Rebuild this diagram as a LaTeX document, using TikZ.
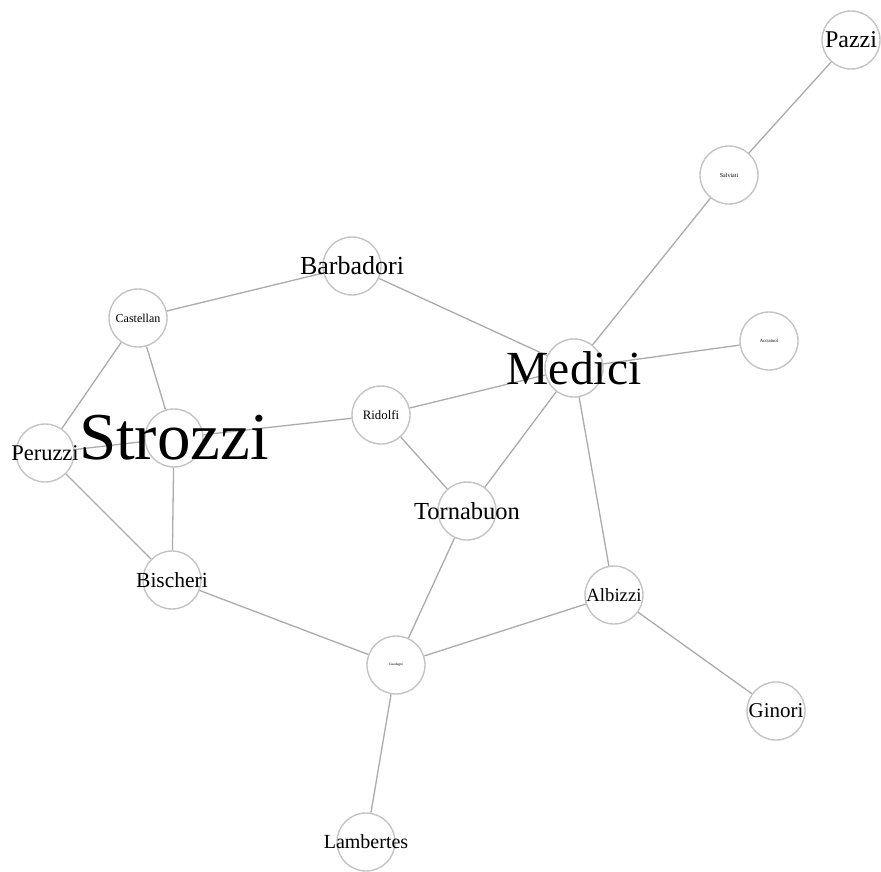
\documentclass[tikz,border=0pt]{standalone}
\usepackage{fontspec}
\setmainfont{Liberation Serif}
\definecolor{edgegray}{HTML}{ABABAB}
\definecolor{ringgray}{HTML}{C4C4C4}
\begin{document}
\begin{tikzpicture}[x=1pt,y=-1pt,
  family/.style={circle,draw=ringgray,line width=1.4pt,fill=white,minimum size=58pt,inner sep=0pt},
  tie/.style={draw=edgegray,line width=1.3pt},
  lbl/.style={inner sep=0pt,text=black}]
\useasboundingbox (0,0) rectangle (881,872);
\fill[white] (0,0) rectangle (881,872);

% family positions
\node[family] (Pazzi)     at (851,40)  {};
\node[family] (Salviati)  at (729,175) {};
\node[family] (Barbadori) at (352,266) {};
\node[family] (Castellan) at (138,318) {};
\node[family] (Acciaiuol) at (769,341) {};
\node[family] (Medici)    at (574,368) {};
\node[family] (Ridolfi)   at (381,415) {};
\node[family] (Strozzi)   at (174,438) {};
\node[family] (Peruzzi)   at (45,453)  {};
\node[family] (Tornabuon) at (467,511) {};
\node[family] (Bischeri)  at (172,580) {};
\node[family] (Albizzi)   at (614,595) {};
\node[family] (Guadagni)  at (396,665) {};
\node[family] (Ginori)    at (776,711) {};
\node[family] (Lambertes) at (366,842) {};

% marriage ties
\foreach \a/\b in {Pazzi/Salviati, Salviati/Medici, Barbadori/Castellan,
  Barbadori/Medici, Medici/Acciaiuol, Medici/Ridolfi, Medici/Tornabuon,
  Medici/Albizzi, Castellan/Peruzzi, Castellan/Strozzi, Strozzi/Ridolfi,
  Strozzi/Peruzzi, Strozzi/Bischeri, Peruzzi/Bischeri, Ridolfi/Tornabuon,
  Tornabuon/Guadagni, Bischeri/Guadagni, Guadagni/Albizzi,
  Guadagni/Lambertes, Albizzi/Ginori}
  \draw[tie] (\a) -- (\b);

% labels, sized by centrality
\node[lbl,font=\fontsize{24}{24}\selectfont] (Pazzi-l) at (Pazzi) {Pazzi};
\node[lbl,font=\fontsize{6}{6}\selectfont] (Salviati-l) at (Salviati) {Salviati};
\node[lbl,font=\fontsize{26}{26}\selectfont] (Barbadori-l) at (Barbadori) {Barbadori};
\node[lbl,font=\fontsize{12}{12}\selectfont] (Castellan-l) at (Castellan) {Castellan};
\node[lbl,font=\fontsize{4.7}{5}\selectfont] (Acciaiuol-l) at (Acciaiuol) {Acciaiuol};
\node[lbl,font=\fontsize{47.5}{48}\selectfont] (Medici-l) at (Medici) {Medici};
\node[lbl,font=\fontsize{12.8}{13}\selectfont] (Ridolfi-l) at (Ridolfi) {Ridolfi};
\node[lbl,font=\fontsize{22.5}{23}\selectfont] (Peruzzi-l) at (Peruzzi) {Peruzzi};
\node[lbl,font=\fontsize{67}{67}\selectfont] (Strozzi-l) at (Strozzi) {Strozzi};
\node[lbl,font=\fontsize{24.5}{25}\selectfont] (Tornabuon-l) at (Tornabuon) {Tornabuon};
\node[lbl,font=\fontsize{21.5}{22}\selectfont] (Bischeri-l) at (Bischeri) {Bischeri};
\node[lbl,font=\fontsize{18.7}{19}\selectfont] (Albizzi-l) at (Albizzi) {Albizzi};
\node[lbl,font=\fontsize{3.6}{4}\selectfont] (Guadagni-l) at (Guadagni) {Guadagni};
\node[lbl,font=\fontsize{21}{21}\selectfont] (Ginori-l) at (Ginori) {Ginori};
\node[lbl,font=\fontsize{20}{20}\selectfont] (Lambertes-l) at (Lambertes) {Lambertes};
\end{tikzpicture}
\end{document}
